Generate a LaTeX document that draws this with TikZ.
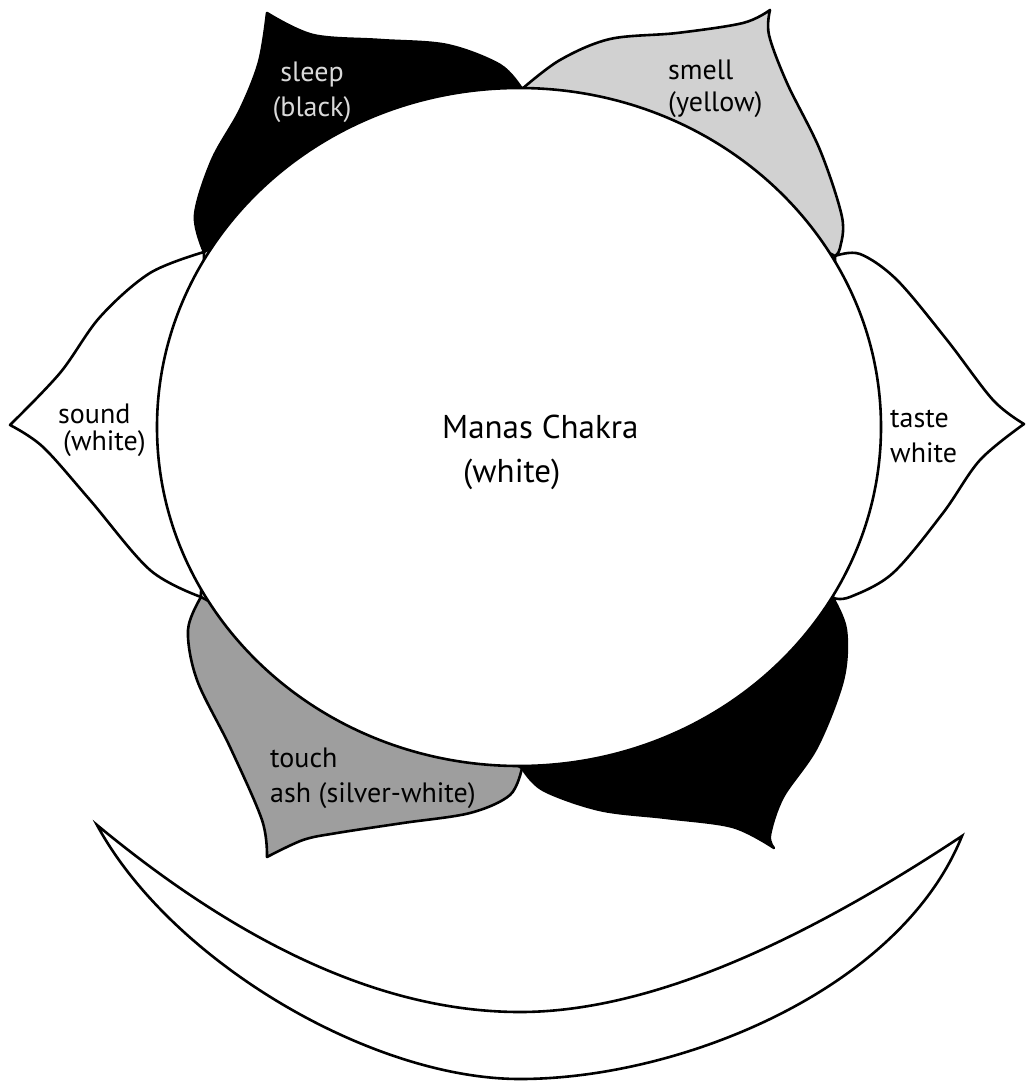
\documentclass[tikz,border=0pt]{standalone}
\usepackage{fontspec}
\setmainfont{PT Sans}
\begin{document}
\begin{tikzpicture}[x=1pt,y=-1pt,
  petal/.style={draw=black,line width=2.6pt,line join=round},
  lbl/.style={font=\fontsize{28}{32}\selectfont,inner sep=0pt,anchor=base west},
  ttl/.style={font=\fontsize{33}{38}\selectfont,inner sep=0pt,anchor=base west},
  crest/.style={draw=black,line width=2.6pt,line join=miter}]
\useasboundingbox (0,0) rectangle (1026,1083);
\fill[white] (0,0) rectangle (1026,1083);
% sleep petal (black)
\filldraw[petal,fill=black] plot[smooth,tension=0.55] coordinates {(204,252) (195,215) (212,160) (240,110) (259,62) (267,13)}
  -- plot[smooth,tension=0.55] coordinates {(267,13) (313,35) (380,40) (447,45) (500,65) (522,89)} -- cycle;
% smell petal (light)
\filldraw[petal,fill=black!18] plot[smooth,tension=0.55] coordinates {(522,89) (560,60) (610,39) (677,33) (743,23) (770,10)}
  -- plot[smooth,tension=0.55] coordinates {(770,10) (769,35) (787,83) (820,150) (842,217) (840,248) (835,256)} -- cycle;
% taste petal (white)
\filldraw[petal,fill=white] plot[smooth,tension=0.55] coordinates {(835,256) (860,254) (897,280) (947,340) (993,400) (1024,424)}
  -- plot[smooth,tension=0.55] coordinates {(1024,424) (980,460) (943,513) (893,573) (850,597) (833,598)} -- cycle;
% bottom right petal (black)
\filldraw[petal,fill=black] plot[smooth,tension=0.55] coordinates {(833,598) (846,630) (843,680) (817,747) (783,797) (770,835) (774,848)}
  -- plot[smooth,tension=0.55] coordinates {(774,848) (733,827) (667,818) (600,810) (543,790) (522,768)} -- cycle;
% touch petal (grey)
\filldraw[petal,fill=black!38] plot[smooth,tension=0.55] coordinates {(522,768) (510,795) (470,813) (403,823) (337,833) (303,840) (267,857)}
  -- plot[smooth,tension=0.55] coordinates {(267,857) (262,820) (230,747) (197,680) (188,630) (201,597)} -- cycle;
% sound petal (white)
\filldraw[petal,fill=white] plot[smooth,tension=0.55] coordinates {(201,597) (150,570) (90,500) (43,447) (10,425)}
  -- plot[smooth,tension=0.55] coordinates {(10,425) (60,373) (100,317) (150,273) (204,252)} -- cycle;
% central disc
\filldraw[fill=white,draw=black,line width=2.6pt] (519,427) ellipse [x radius=362pt, y radius=339pt];
% crescent
\coordinate (cL) at (97,825);
\coordinate (cR) at (962,836);
\coordinate (cO) at (520,1079);
\coordinate (cI) at (520,1012);
\draw[crest] (cL) .. controls (170,960) and (370,1079) .. (cO)
  .. controls (680,1079) and (900,990) .. (cR)
  .. controls (820,930) and (660,1012) .. (cI)
  .. controls (400,1012) and (260,960) .. (cL) -- cycle;
% labels
\node[lbl,anchor=base,text=black!15] (sleepA) at (312,82) {sleep};
\node[lbl,anchor=base,text=black!15] (sleepB) at (312,117) {(black)};
\node[lbl] (smellA) at (668,80) {smell};
\node[lbl] (smellB) at (668,112) {(yellow)};
\node[lbl] (soundA) at (58,423) {sound};
\node[lbl] (soundB) at (63,450) {(white)};
\node[lbl] (tasteA) at (890,427) {taste};
\node[lbl] (tasteB) at (890,462) {white};
\node[lbl] (touchA) at (270,767) {touch};
\node[lbl] (touchB) at (270,802) {ash (silver-white)};
\node[ttl] (manasA) at (442,438) {Manas Chakra};
\node[ttl] (manasB) at (463,482) {(white)};
\end{tikzpicture}
\end{document}
